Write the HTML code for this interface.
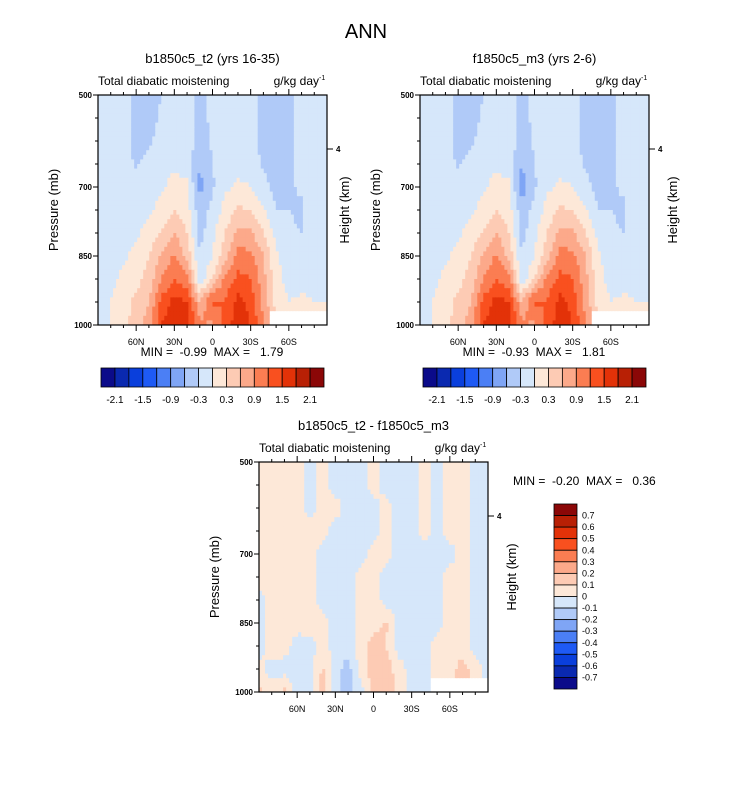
<!DOCTYPE html>
<html><head><meta charset="utf-8"><style>
body{margin:0;background:#fff;}
svg{display:block;font-family:"Liberation Sans",sans-serif;}
.pre{white-space:pre;}
</style></head><body>
<svg id="fig" width="733" height="788" viewBox="0 0 733 788">
<text x="366" y="38" font-size="20" text-anchor="middle">ANN</text>
</svg>
<script>
const lats=[90,80,70,60,50,40,30,20,10,0,-10,-20,-30,-40,-50,-60,-70,-80,-90];
const pres=[500,550,600,650,700,750,800,850,900,950,1000];
const colors=["#0b0b8a","#0a29b0","#0a3fdc","#1e5af5","#4b7ff5","#7fa5f5","#b0caf8","#d6e7fa","#fde8d8","#fdcbb4","#fca98a","#fb7d52","#f9501f","#e33208","#b82005","#8b0707"];
const levelsTop=[-2.1,-1.8,-1.5,-1.2,-0.9,-0.6,-0.3,0,0.3,0.6,0.9,1.2,1.5,1.8,2.1];
const labelsTop=["-2.1","-1.5","-0.9","-0.3","0.3","0.9","1.5","2.1"];
const levelsDiff=[-0.7,-0.6,-0.5,-0.4,-0.3,-0.2,-0.1,0,0.1,0.2,0.3,0.4,0.5,0.6,0.7];
const labelsDiff=["-0.7","-0.6","-0.5","-0.4","-0.3","-0.2","-0.1","0","0.1","0.2","0.3","0.4","0.5","0.6","0.7"];
const dataA=[
[-0.1,-0.1,-0.2,-0.4,-0.4,-0.3,-0.1,-0.1,-0.4,-0.2,-0.1,-0.1,-0.2,-0.4,-0.4,-0.35,-0.2,-0.1,-0.1],
[-0.1,-0.1,-0.2,-0.4,-0.4,-0.25,-0.1,-0.1,-0.45,-0.2,-0.1,-0.1,-0.2,-0.4,-0.4,-0.35,-0.2,-0.1,-0.1],
[-0.1,-0.1,-0.2,-0.4,-0.35,-0.2,-0.1,-0.1,-0.5,-0.25,-0.1,-0.1,-0.2,-0.4,-0.4,-0.35,-0.2,-0.1,-0.1],
[-0.1,-0.1,-0.15,-0.35,-0.2,-0.1,-0.05,-0.1,-0.6,-0.3,-0.1,-0.1,-0.1,-0.35,-0.4,-0.35,-0.2,-0.1,-0.1],
[-0.1,-0.1,-0.1,-0.1,-0.1,-0.05,0.1,0.05,-0.7,-0.35,-0.05,0.05,0.0,-0.2,-0.4,-0.35,-0.25,-0.1,-0.1],
[-0.1,-0.1,-0.1,-0.1,-0.05,0.1,0.3,0.15,-0.5,-0.2,0.1,0.35,0.3,0.05,-0.3,-0.3,-0.35,-0.1,-0.1],
[-0.1,-0.1,-0.1,-0.05,0.1,0.35,0.6,0.3,-0.4,-0.1,0.3,0.7,0.65,0.3,-0.1,-0.25,-0.3,-0.1,0.0],
[-0.1,-0.1,-0.05,0.1,0.3,0.65,0.95,0.5,-0.3,0.0,0.5,1.0,1.0,0.6,0.05,-0.2,-0.3,-0.1,0.0],
[-0.1,-0.05,0.05,0.2,0.4,0.9,1.2,1.0,-0.2,0.3,1.0,1.3,1.2,0.7,0.1,-0.1,-0.2,-0.1,0.0],
[-0.1,0.0,0.1,0.4,0.6,1.3,1.6,1.5,0.6,1.3,1.2,1.6,1.4,0.8,0.2,0.0,0.1,0.0,0.0],
[-0.1,0.0,0.2,0.5,0.7,1.5,1.8,1.6,1.0,0.8,1.3,1.7,1.5,0.9,null,null,null,null,null]];
const dataB=[
[-0.1,-0.1,-0.2,-0.4,-0.4,-0.3,-0.1,-0.1,-0.4,-0.2,-0.1,-0.1,-0.2,-0.4,-0.4,-0.35,-0.2,-0.1,-0.1],
[-0.1,-0.1,-0.2,-0.4,-0.4,-0.25,-0.1,-0.1,-0.45,-0.2,-0.1,-0.1,-0.2,-0.4,-0.4,-0.35,-0.2,-0.1,-0.1],
[-0.1,-0.1,-0.2,-0.4,-0.35,-0.2,-0.1,-0.1,-0.5,-0.25,-0.1,-0.1,-0.2,-0.4,-0.4,-0.35,-0.2,-0.1,-0.1],
[-0.1,-0.1,-0.15,-0.35,-0.2,-0.1,-0.05,-0.1,-0.6,-0.3,-0.1,-0.1,-0.1,-0.35,-0.4,-0.35,-0.2,-0.1,-0.1],
[-0.1,-0.1,-0.1,-0.1,-0.1,-0.05,0.1,0.05,-0.75,-0.35,-0.05,0.05,0.0,-0.2,-0.4,-0.35,-0.25,-0.1,-0.1],
[-0.1,-0.1,-0.1,-0.1,-0.05,0.1,0.3,0.15,-0.5,-0.2,0.1,0.35,0.3,0.05,-0.3,-0.3,-0.35,-0.1,-0.1],
[-0.1,-0.1,-0.1,-0.05,0.1,0.35,0.6,0.3,-0.4,-0.1,0.3,0.7,0.65,0.3,-0.1,-0.25,-0.3,-0.1,0.0],
[-0.1,-0.1,-0.05,0.1,0.3,0.65,0.95,0.5,-0.3,0.0,0.5,1.0,1.0,0.6,0.05,-0.2,-0.3,-0.1,0.0],
[-0.1,-0.05,0.05,0.2,0.4,0.9,1.2,1.0,-0.2,0.3,1.0,1.3,1.2,0.7,0.1,-0.1,-0.2,-0.1,0.0],
[-0.1,0.0,0.1,0.4,0.6,1.3,1.6,1.5,0.6,1.3,1.2,1.6,1.4,0.8,0.2,0.0,0.1,0.0,0.0],
[-0.1,0.0,0.2,0.5,0.7,1.5,1.8,1.6,1.0,0.8,1.3,1.7,1.5,0.9,null,null,null,null,null]];
const dataD=[
[0.05,0.05,0.05,0.05,-0.05,0.05,-0.05,-0.05,-0.05,0.05,-0.05,-0.05,-0.05,0.05,-0.05,0.05,0.05,-0.05,-0.05],
[0.05,0.05,0.05,0.05,-0.05,0.05,-0.05,-0.05,-0.05,0.05,-0.05,-0.05,-0.05,0.05,-0.05,0.05,0.05,-0.05,-0.05],
[0.05,0.05,0.05,0.05,-0.05,0.05,0.05,-0.05,-0.05,-0.05,0.05,-0.05,-0.05,0.05,-0.05,0.05,0.05,-0.05,-0.05],
[0.05,0.05,0.05,0.05,0.05,0.05,-0.05,-0.05,-0.05,-0.05,0.05,-0.05,-0.05,0.05,-0.05,0.05,0.05,-0.05,-0.05],
[0.05,0.05,0.05,0.05,0.05,-0.05,-0.05,-0.05,-0.05,0.05,0.05,-0.05,-0.05,-0.05,-0.05,-0.05,0.05,-0.05,-0.05],
[0.05,0.05,0.05,0.05,0.05,-0.05,-0.05,-0.05,0.05,0.05,-0.05,-0.05,-0.05,-0.05,-0.05,0.05,0.05,-0.05,-0.05],
[-0.05,0.05,0.05,0.05,0.05,-0.05,-0.05,-0.05,0.05,0.05,-0.05,-0.05,-0.05,-0.05,-0.05,0.05,0.05,-0.05,-0.05],
[-0.05,0.05,0.05,0.05,0.05,0.05,-0.05,-0.05,0.05,0.05,0.12,-0.05,-0.05,-0.05,-0.05,0.05,0.05,-0.05,-0.05],
[-0.05,0.05,0.05,-0.05,-0.05,0.05,-0.05,-0.05,0.05,0.15,0.1,-0.05,-0.05,-0.05,0.05,0.05,0.05,-0.05,-0.05],
[0.05,-0.05,-0.05,-0.05,-0.05,0.12,-0.05,-0.15,0.05,0.15,0.15,0.05,-0.05,-0.05,0.05,0.05,0.15,0.05,-0.05],
[0.12,0.05,0.12,-0.05,-0.05,0.15,-0.05,-0.15,-0.05,0.15,0.2,0.05,-0.05,-0.05,null,null,null,null,null]];

const NS="http://www.w3.org/2000/svg";
const svg=document.getElementById('fig');
function mk(tag,attrs,parent){const e=document.createElementNS(NS,tag);for(const k in attrs)e.setAttribute(k,attrs[k]);(parent||svg).appendChild(e);return e;}
function colorFor(v,levels){if(v===null)return "#ffffff";let i=0;while(i<levels.length&&v>=levels[i])i++;return colors[i];}

function panel(px,py,data,levels,title,pname,hOff){
  const W=229,H=230;
  const xs=lat=>px+(90-lat)/180*W;
  const ys=p=>py+(p-500)/500*H;
  const g=mk('g',{});
  
  
  const nx=76,ny=50;
  for(let j=0;j<ny;j++){
    const pf=(j+0.5)/ny*(pres.length-1);
    const r0=Math.floor(pf),r1=Math.min(r0+1,pres.length-1),tr=pf-r0;
    for(let i=0;i<nx;i++){
      const lf=(i+0.5)/nx*(lats.length-1);
      const c0=Math.floor(lf),c1=Math.min(c0+1,lats.length-1),tc=lf-c0;
      const near=data[tr<0.5?r0:r1][tc<0.5?c0:c1];
      let v;
      const a=data[r0][c0],b=data[r0][c1],c=data[r1][c0],d=data[r1][c1];
      if(near===null)v=null;
      else{
        const vals=[[a,(1-tr)*(1-tc)],[b,(1-tr)*tc],[c,tr*(1-tc)],[d,tr*tc]];
        let s=0,w=0;vals.forEach(([val,wt])=>{if(val!==null){s+=val*wt;w+=wt;}});
        v=s/w;
      }
      const lat0=90-i/nx*180,lat1=90-(i+1)/nx*180;
      const p0=500+j/ny*500,p1=500+(j+1)/ny*500;
      const r=mk('rect',{x:xs(lat0),y:ys(p0),width:xs(lat1)-xs(lat0)+0.5,height:ys(p1)-ys(p0)+0.5,fill:colorFor(v,levels)},g);
      
      
    }
  }
  const fr=mk('rect',{x:px,y:py,width:W,height:H,fill:'none',stroke:'#000','stroke-width':1.2});
  
  for(let lat=80;lat>=-80;lat-=10){
    const x=xs(lat),maj=(lat%30===0);
    mk('line',{x1:x,x2:x,y1:py+H,y2:py+H+(maj?6:3),stroke:'#000','stroke-width':1});
    mk('line',{x1:x,x2:x,y1:py,y2:py-(maj?6:3),stroke:'#000','stroke-width':1});
    if(maj){const lab=lat===0?'0':(Math.abs(lat)+(lat>0?'N':'S'));
      const t=mk('text',{x:x,y:py+H+20,'font-size':9,'text-anchor':'middle'});t.textContent=lab;
      }
  }
  [500,700,850,1000].forEach(p=>{
    mk('line',{x1:px,x2:px-5,y1:ys(p),y2:ys(p),stroke:'#000','stroke-width':1});
    const t=mk('text',{x:px-6,y:ys(p)+3,'font-size':8,'font-weight':'bold','text-anchor':'end'});t.textContent=p;
    
  });
  [550,600,650,750,800,900,950].forEach(p=>mk('line',{x1:px,x2:px-3,y1:ys(p),y2:ys(p),stroke:'#000','stroke-width':1}));
  mk('line',{x1:px+W,x2:px+W+6,y1:py+54,y2:py+54,stroke:'#000','stroke-width':1});
  let t=mk('text',{x:px+W+9,y:py+57,'font-size':8,'font-weight':'bold'});t.textContent='4';
  
  t=mk('text',{x:0,y:0,'font-size':13,'text-anchor':'middle',transform:`translate(${px+W+hOff},${py+H/2}) rotate(-90)`});t.textContent='Height (km)';
  
  t=mk('text',{x:0,y:0,'font-size':13,'text-anchor':'middle',transform:`translate(${px-40},${py+H/2}) rotate(-90)`});t.textContent='Pressure (mb)';
  
  t=mk('text',{x:px,y:py-10,'font-size':12});t.textContent='Total diabatic moistening';
  
  t=mk('text',{x:px+W-8,y:py-10,'font-size':12,'text-anchor':'end'});t.textContent='g/kg day';
  
  t=mk('text',{x:px+W-8,y:py-15,'font-size':7});t.textContent='-1';
  
  t=mk('text',{x:px+W/2,y:py-32,'font-size':13,'text-anchor':'middle'});t.textContent=title;
  
}
function minmax(x,y,text,anchor){const t=mk('text',{x:x,y:y,'font-size':12,'text-anchor':anchor,'class':'pre'});t.textContent=text;
  }
function hbar(x0,y0,w,h,name){
  const g=mk('g',{});
  const bw=w/colors.length;
  colors.forEach((c,i)=>{const r=mk('rect',{x:x0+i*bw,y:y0,width:bw,height:h,fill:c,stroke:'#000','stroke-width':0.8},g);
    });
  labelsTop.forEach((l,k)=>{const i=2*k;const t=mk('text',{x:x0+(i+1)*bw,y:y0+h+16,'font-size':10,'text-anchor':'middle'},g);t.textContent=l;
    });
}
function vbar(x0,y0,w,h,name){
  const g=mk('g',{});
  const bh=h/colors.length;
  colors.slice().reverse().forEach((c,i)=>{const r=mk('rect',{x:x0,y:y0+i*bh,width:w,height:bh,fill:c,stroke:'#000','stroke-width':0.8},g);
    });
  labelsDiff.slice().reverse().forEach((l,i)=>{const t=mk('text',{x:x0+w+5,y:y0+(i+1)*bh+3,'font-size':9},g);t.textContent=l;
    });
}
panel(98,95,dataA,levelsTop,'b1850c5_t2 (yrs 16-35)','panel-b1850c5-t2',22);
panel(420,95,dataB,levelsTop,'f1850c5_m3 (yrs 2-6)','panel-f1850c5-m3',28);
panel(259,462,dataD,levelsDiff,'b1850c5_t2 - f1850c5_m3','panel-difference',28);
minmax(212,356,'MIN =  -0.99  MAX =   1.79','middle');
minmax(534,356,'MIN =  -0.93  MAX =   1.81','middle');
minmax(513,485,'MIN =  -0.20  MAX =   0.36','start');
hbar(101,368,223,19,'colorbar-left');
hbar(423,368,223,19,'colorbar-right');
vbar(554,504,23,185,'colorbar-difference');
</script>
</body></html>
